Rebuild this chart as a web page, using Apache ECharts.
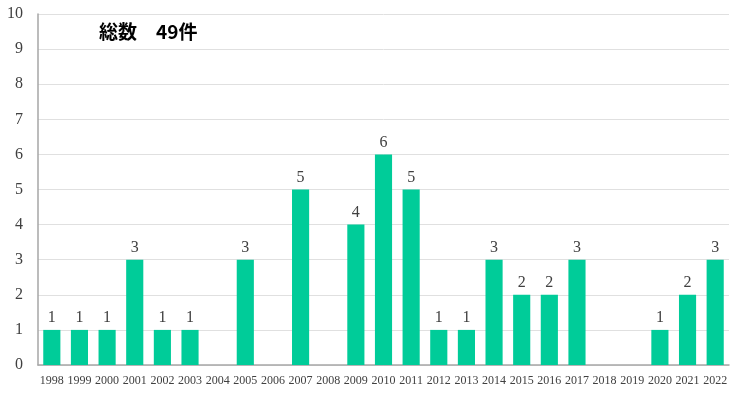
<!DOCTYPE html>
<html><head><meta charset="utf-8">
<script src="https://cdn.jsdelivr.net/npm/echarts@6/dist/echarts.min.js"></script>
<style>html,body{margin:0;padding:0;background:#fff}#c{width:740px;height:393px}</style>
</head><body><div id="c"></div>
<script>
const years = ['1998','1999','2000','2001','2002','2003','2004','2005','2006','2007','2008','2009','2010','2011','2012','2013','2014','2015','2016','2017','2018','2019','2020','2021','2022'];
const counts = [1,1,1,3,1,1,0,3,0,5,0,4,6,5,1,1,3,2,2,3,0,0,1,2,3];
const titleText = '総数　49件';
const chart = echarts.init(document.getElementById('c'));
chart.setOption({
  animation:false,
  grid:{left:38,right:11,top:14,bottom:28,containLabel:false},
  graphic:[{type:'text',left:99,top:22,style:{text:titleText,font:'bold 19px "Noto Sans CJK JP", sans-serif',fill:'#000'}}],
  xAxis:{type:'category',data:years,
    axisLine:{lineStyle:{color:'#a6a6a6',width:1.5}},axisTick:{show:false},
    axisLabel:{color:'#404040',fontFamily:'"Liberation Serif", serif',fontSize:12,interval:0,margin:10}},
  yAxis:{type:'value',min:0,max:10,interval:1,
    axisLine:{show:true,lineStyle:{color:'#a6a6a6',width:1.5}},axisTick:{show:false},
    splitLine:{lineStyle:{color:'#e0e0e0'}},
    axisLabel:{color:'#404040',fontFamily:'"Liberation Serif", serif',fontSize:16,margin:15}},
  series:[{type:'bar',data:counts,barCategoryGap:'38%',itemStyle:{color:'#00CC99'},
    label:{show:true,position:'top',distance:4,color:'#404040',fontFamily:'"Liberation Serif", serif',fontSize:16,
      formatter:p=>p.value>0?p.value:''}}]
});
</script></body></html>
